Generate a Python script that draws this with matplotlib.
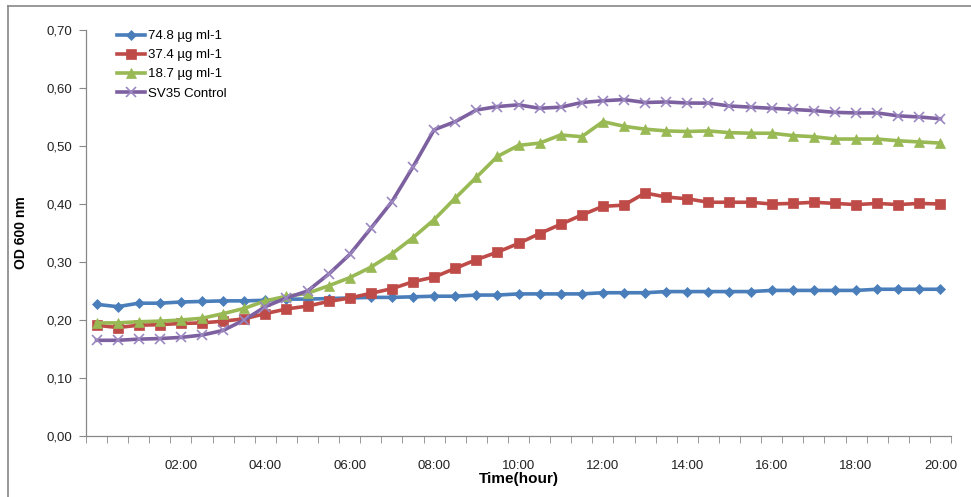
import matplotlib
matplotlib.use('Agg')
import matplotlib.pyplot as plt
from matplotlib.ticker import FixedLocator, FuncFormatter
import numpy as np

plt.rcParams['font.family'] = ['Liberation Sans', 'DejaVu Sans']

# readings every 30 min, 00:00 .. 20:00
times = ['%02d:%02d' % (m // 60, m % 60) for m in range(0, 20 * 60 + 1, 30)]

od_748 = [0.227, 0.223, 0.229, 0.229, 0.231, 0.232, 0.233, 0.233, 0.234, 0.236,
          0.236, 0.237, 0.238, 0.239, 0.239, 0.240, 0.241, 0.241, 0.243, 0.243,
          0.245, 0.245, 0.245, 0.245, 0.247, 0.247, 0.247, 0.249, 0.249, 0.249,
          0.249, 0.249, 0.251, 0.251, 0.251, 0.251, 0.251, 0.253, 0.253, 0.253,
          0.253]
od_374 = [0.191, 0.187, 0.191, 0.192, 0.194, 0.195, 0.198, 0.202, 0.211, 0.219,
          0.224, 0.232, 0.238, 0.246, 0.254, 0.266, 0.274, 0.289, 0.304, 0.317,
          0.332, 0.349, 0.365, 0.381, 0.396, 0.398, 0.419, 0.412, 0.409, 0.403,
          0.403, 0.403, 0.400, 0.401, 0.403, 0.401, 0.399, 0.401, 0.399, 0.401,
          0.400]
od_187 = [0.195, 0.195, 0.197, 0.198, 0.200, 0.203, 0.211, 0.220, 0.233, 0.241,
          0.246, 0.259, 0.273, 0.291, 0.314, 0.342, 0.373, 0.410, 0.446, 0.482,
          0.501, 0.505, 0.519, 0.516, 0.542, 0.534, 0.529, 0.526, 0.525, 0.526,
          0.523, 0.522, 0.522, 0.518, 0.516, 0.512, 0.512, 0.512, 0.509, 0.507,
          0.505]
od_ctrl = [0.165, 0.165, 0.167, 0.168, 0.170, 0.174, 0.182, 0.200, 0.223, 0.238,
           0.250, 0.279, 0.313, 0.358, 0.404, 0.464, 0.528, 0.542, 0.562, 0.568,
           0.571, 0.565, 0.567, 0.575, 0.578, 0.580, 0.575, 0.576, 0.574, 0.574,
           0.569, 0.567, 0.565, 0.563, 0.561, 0.558, 0.557, 0.557, 0.552, 0.550,
           0.547]

series = [
    ('74.8 \u00b5g ml-1', od_748, '#4A7EBB', 'D', 5),
    ('37.4 \u00b5g ml-1', od_374, '#BE4B48', 's', 6.5),
    ('18.7 \u00b5g ml-1', od_187, '#98B954', '^', 7),
    ('SV35 Control', od_ctrl, '#7D60A0', 'x', 7),
]

fig = plt.figure(figsize=(9.71, 4.97), dpi=100)
ax = fig.add_axes([86 / 971, 1 - 436 / 497, 865 / 971, 406 / 497])

x = np.arange(len(times))
for label, vals, col, mk, ms in series:
    ax.plot(x, vals, color=col, lw=2.6, marker=mk, ms=ms, mew=1.2 if mk == 'x' else 0.5,
            mec=col if mk != 'x' else '#9C88C0', mfc=col, label=label)

ax.set_xlim(-0.5, len(times) - 0.5)
ax.set_ylim(0, 0.70)
ax.set_yticks(np.arange(0, 0.71, 0.1))
ax.yaxis.set_major_formatter(FuncFormatter(lambda v, p: ('%.2f' % v).replace('.', ',')))

lab_idx = list(range(4, len(times), 4))
ax.set_xticks(lab_idx)
ax.set_xticklabels([times[i] for i in lab_idx])
ax.xaxis.set_minor_locator(FixedLocator(np.arange(-0.5, len(times), 1)))
ax.tick_params(axis='x', which='major', length=0, pad=17, labelsize=9.5, colors='#222222')
ax.tick_params(axis='x', which='minor', length=5, direction='out', color='#888888')
ax.tick_params(axis='y', length=5, direction='out', color='#888888', pad=5,
               labelsize=9.5, labelcolor='#222222')

for s in ['top', 'right']:
    ax.spines[s].set_visible(False)
for s in ['left', 'bottom']:
    ax.spines[s].set_color('#888888')
    ax.spines[s].set_linewidth(0.9)

ax.set_xlabel('Time(hour)', fontsize=11, fontweight='bold', labelpad=0)
ax.set_ylabel('OD 600 nm', fontsize=10, fontweight='bold', labelpad=13)

ax.legend(loc='upper left', bbox_to_anchor=(0.030, 1.013), frameon=False, fontsize=9.5,
          handlelength=2.1, handletextpad=0.25, labelspacing=0.52, borderaxespad=0)

# screenshot frame lines
fig.add_artist(plt.Line2D([8 / 971, 1], [1 - 6 / 497] * 2, color='#888888', lw=1.2))
fig.add_artist(plt.Line2D([8 / 971] * 2, [0, 1 - 6 / 497], color='#888888', lw=1.2))

fig.savefig('out.png', dpi=100)
